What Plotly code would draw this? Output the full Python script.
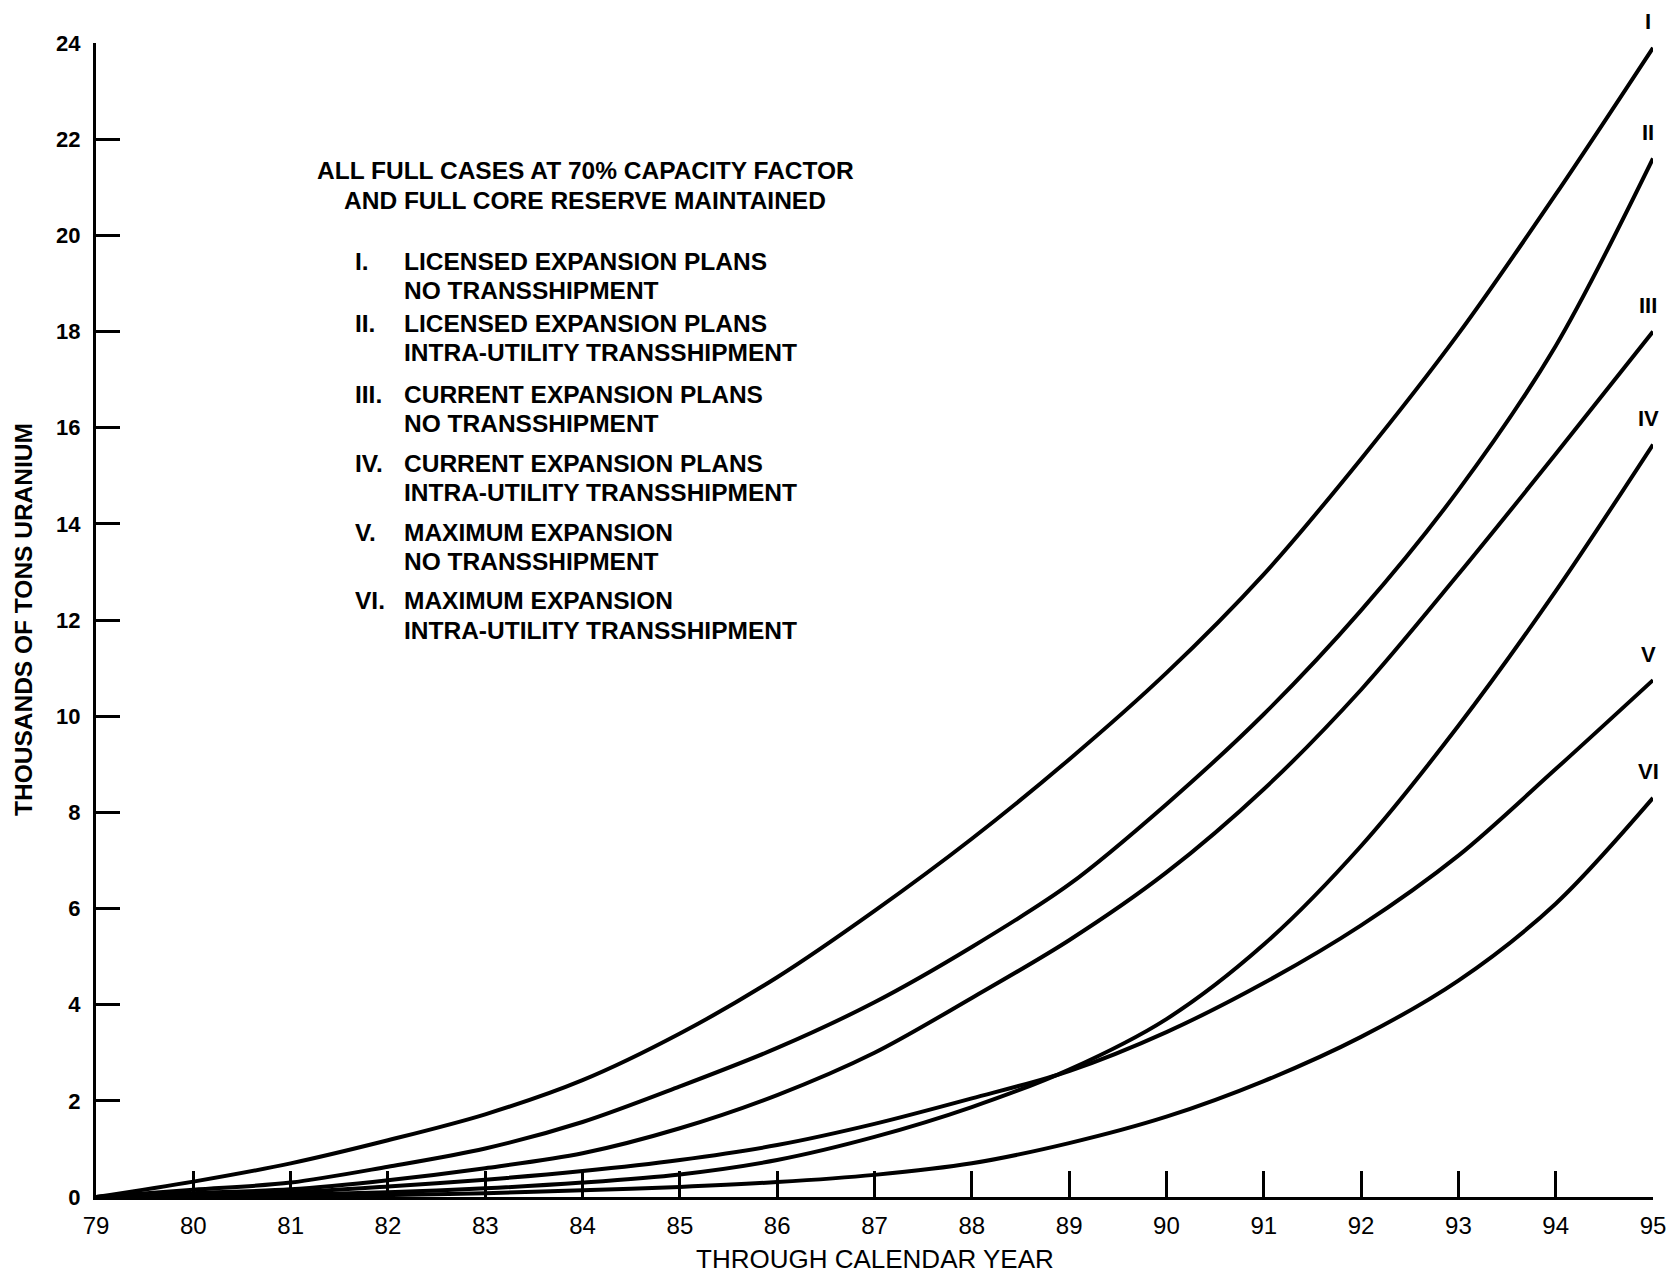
import plotly.graph_objects as go

# ---- data ----
years = [79, 80, 81, 82, 83, 84, 85, 86, 87, 88, 89, 90, 91, 92, 93, 94, 95]
case_I = [0, 0.32, 0.70, 1.18, 1.72, 2.43, 3.40, 4.57, 5.95, 7.45, 9.10, 10.9, 12.95, 15.35, 17.95, 20.85, 23.9]
case_II = [0, 0.15, 0.30, 0.63, 1.01, 1.56, 2.30, 3.10, 4.05, 5.20, 6.50, 8.17, 10.04, 12.2, 14.7, 17.7, 21.6]
case_III = [0, 0.08, 0.16, 0.35, 0.60, 0.91, 1.43, 2.12, 3.00, 4.14, 5.34, 6.75, 8.48, 10.55, 12.95, 15.45, 18.0]
case_IV = [0, 0.02, 0.05, 0.10, 0.18, 0.30, 0.47, 0.77, 1.25, 1.87, 2.65, 3.70, 5.25, 7.30, 9.80, 12.6, 15.65]
case_V = [0, 0.04, 0.10, 0.22, 0.36, 0.54, 0.77, 1.08, 1.52, 2.05, 2.62, 3.43, 4.45, 5.65, 7.10, 8.9, 10.75]
case_VI = [0, 0.01, 0.02, 0.04, 0.08, 0.14, 0.21, 0.31, 0.46, 0.70, 1.12, 1.67, 2.41, 3.33, 4.50, 6.1, 8.3]

case_names = ["I", "II", "III", "IV", "V", "VI"]
case_values = [case_I, case_II, case_III, case_IV, case_V, case_VI]

y_ticks = [0, 2, 4, 6, 8, 10, 12, 14, 16, 18, 20, 22, 24]
x_ticks = years

header_lines = ["ALL FULL CASES AT 70% CAPACITY FACTOR", "AND FULL CORE RESERVE MAINTAINED"]
legend_items = [
    ("I.", "LICENSED EXPANSION PLANS", "NO TRANSSHIPMENT"),
    ("II.", "LICENSED EXPANSION PLANS", "INTRA-UTILITY TRANSSHIPMENT"),
    ("III.", "CURRENT EXPANSION PLANS", "NO TRANSSHIPMENT"),
    ("IV.", "CURRENT EXPANSION PLANS", "INTRA-UTILITY TRANSSHIPMENT"),
    ("V.", "MAXIMUM EXPANSION", "NO TRANSSHIPMENT"),
    ("VI.", "MAXIMUM EXPANSION", "INTRA-UTILITY TRANSSHIPMENT"),
]

FONT = "Liberation Sans, Arial, Helvetica, sans-serif"
W, H = 1678, 1274
L, R, T, B = 96, 25, 43, 77

fig = go.Figure()
for name, vals in zip(case_names, case_values):
    fig.add_trace(go.Scatter(
        x=years, y=vals, mode="lines", name=name,
        line=dict(color="black", width=4, shape="spline", smoothing=0.9),
        showlegend=False, hoverinfo="x+y+name",
    ))

annotations = []
# curve end labels
for name, vals in zip(case_names, case_values):
    annotations.append(dict(
        x=years[-1], y=vals[-1], xref="x", yref="y", text="<b>%s</b>" % name,
        showarrow=False, xanchor="center", yanchor="middle",
        xshift=-5, yshift=26, font=dict(family=FONT, size=22, color="black"),
    ))

# header block (pixel positions converted to paper coords)
def px_x(px):
    return (px - L) / (W - L - R)

def px_y(py):
    return 1 - (py - T) / (H - T - B)

TXT = 24.5
header_y = [171, 201]
for txt, py in zip(header_lines, header_y):
    annotations.append(dict(
        x=px_x(585), y=px_y(py), xref="paper", yref="paper", text="<b>%s</b>" % txt,
        showarrow=False, xanchor="center", yanchor="middle",
        font=dict(family=FONT, size=TXT, color="black"),
    ))

item_y = [262, 324, 394, 463, 532, 601]
for (num, l1, l2), py in zip(legend_items, item_y):
    annotations.append(dict(
        x=px_x(353), y=px_y(py), xref="paper", yref="paper", text="<b>%s</b>" % num,
        showarrow=False, xanchor="left", yanchor="middle",
        font=dict(family=FONT, size=TXT, color="black"),
    ))
    for txt, dy in ((l1, 0), (l2, 29)):
        annotations.append(dict(
            x=px_x(402), y=px_y(py + dy), xref="paper", yref="paper", text="<b>%s</b>" % txt,
            showarrow=False, xanchor="left", yanchor="middle",
            font=dict(family=FONT, size=TXT, color="black"),
        ))

# axis titles
annotations.append(dict(
    x=0.5, y=0, xref="paper", yref="paper", text="THROUGH CALENDAR YEAR",
    showarrow=False, xanchor="center", yanchor="middle", yshift=-62,
    font=dict(family=FONT, size=26, color="black"),
))
annotations.append(dict(
    x=0, y=0.5, xref="paper", yref="paper", text="<b>THOUSANDS OF TONS URANIUM</b>",
    showarrow=False, xanchor="center", yanchor="middle", xshift=-73, textangle=-90,
    font=dict(family=FONT, size=24.5, color="black"),
))

fig.update_layout(
    width=W, height=H,
    margin=dict(l=L, r=R, t=T, b=B, pad=0),
    paper_bgcolor="white", plot_bgcolor="white",
    annotations=annotations,
    font=dict(family=FONT, color="black"),
)
fig.update_xaxes(
    range=[79, 95], tickmode="array", tickvals=x_ticks, ticktext=[str(v) for v in x_ticks],
    showgrid=False, zeroline=False, showline=True, linecolor="black", linewidth=3,
    ticks="inside", ticklen=26, tickwidth=3, tickcolor="black",
    tickfont=dict(family=FONT, size=24, color="black"), ticklabelstandoff=5,
)
fig.update_yaxes(
    range=[0, 24], tickmode="array", tickvals=y_ticks,
    ticktext=["<b>%d</b>" % v for v in y_ticks],
    showgrid=False, zeroline=False, showline=True, linecolor="black", linewidth=3,
    ticks="inside", ticklen=24, tickwidth=3, tickcolor="black",
    tickfont=dict(family=FONT, size=22, color="black"), ticklabelstandoff=8,
)

fig.write_html(
    "out.html",
    config={"displayModeBar": False},
    post_script="document.body.style.margin='0';document.body.style.overflow='hidden';",
)
